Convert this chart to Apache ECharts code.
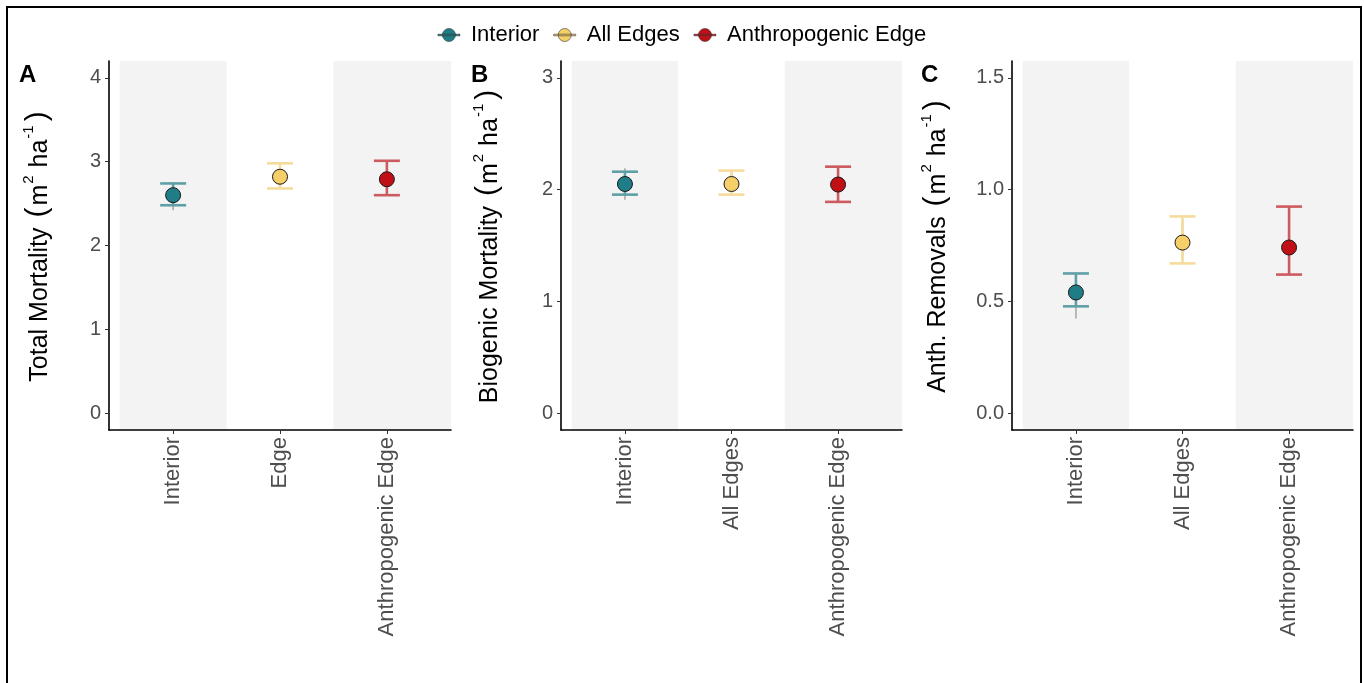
<!DOCTYPE html>
<html>
<head>
<meta charset="utf-8">
<script src="https://cdn.jsdelivr.net/npm/echarts@6/dist/echarts.min.js"></script>
<style>
html,body{margin:0;padding:0;background:#fff;}
#chart{width:1364px;height:683px;}
</style>
</head>
<body>
<div id="chart"></div>
<script>
// ---------- data ----------
const groups = ['Interior', 'All Edges', 'Anthropogenic Edge'];
const groupColors = ['#1e7d86', '#f7cf68', '#c10f16'];
const barColors = ['#5f9fa6', '#f6dc9c', '#cc5a5e'];

const categoriesA = ['Interior', 'Edge', 'Anthropogenic Edge'];
const categoriesB = ['Interior', 'All Edges', 'Anthropogenic Edge'];
const categoriesC = ['Interior', 'All Edges', 'Anthropogenic Edge'];

// Panel A: Total Mortality
const meanA = [2.60, 2.82, 2.79];
const lowA = [2.48, 2.68, 2.60];
const highA = [2.74, 2.98, 3.01];
const lineLowA = [2.42, 2.70, 2.62];
const lineHighA = [2.75, 2.96, 2.99];

// Panel B: Biogenic Mortality
const meanB = [2.05, 2.05, 2.045];
const lowB = [1.955, 1.955, 1.89];
const highB = [2.16, 2.17, 2.205];
const lineLowB = [1.91, 1.97, 1.91];
const lineHighB = [2.19, 2.15, 2.19];

// Panel C: Anth. Removals
const meanC = [0.54, 0.763, 0.741];
const lowC = [0.478, 0.67, 0.62];
const highC = [0.625, 0.88, 0.924];
const lineLowC = [0.424, 0.69, 0.64];
const lineHighC = [0.62, 0.86, 0.90];

// axis ticks
const ticksA = [0, 1, 2, 3, 4];
const tickLabelsA = ['0', '1', '2', '3', '4'];
const ticksB = [0, 1, 2, 3];
const tickLabelsB = ['0', '1', '2', '3'];
const ticksC = [0, 0.5, 1, 1.5];
const tickLabelsC = ['0.0', '0.5', '1.0', '1.5'];

// shaded bands (x ranges, in category units)
const bands = [[0.5, 1.5], [2.5, 3.6]];

// ---------- layout ----------
const FONT = 'Liberation Sans, Arial, sans-serif';
const panels = [
  {left: 109, width: 342, ymin: -0.2, ymax: 4.2, cats: categoriesA, ticks: ticksA, tickLabels: tickLabelsA,
   mean: meanA, low: lowA, high: highA, lineLow: lineLowA, lineHigh: lineHighA,
   title: 'Total Mortality', nameGap: 56, letter: 'A', letterX: 19},
  {left: 561, width: 341, ymin: -0.15, ymax: 3.15, cats: categoriesB, ticks: ticksB, tickLabels: tickLabelsB,
   mean: meanB, low: lowB, high: highB, lineLow: lineLowB, lineHigh: lineHighB,
   title: 'Biogenic Mortality', nameGap: 58, letter: 'B', letterX: 471},
  {left: 1012, width: 341, ymin: -0.075, ymax: 1.575, cats: categoriesC, ticks: ticksC, tickLabels: tickLabelsC,
   mean: meanC, low: lowC, high: highC, lineLow: lineLowC, lineHigh: lineHighC,
   title: 'Anth. Removals', nameGap: 61, letter: 'C', letterX: 921}
];
const gridTop = 61, gridHeight = 369;

const grid = [], xAxis = [], yAxis = [], series = [];

panels.forEach((p, i) => {
  grid.push({left: p.left, top: gridTop, width: p.width, height: gridHeight, containLabel: false});
  xAxis.push({
    type: 'value', gridIndex: i, min: 0.4, max: 3.6,
    splitLine: {show: false},
    axisLine: {show: true, onZero: false, lineStyle: {color: '#000', width: 1.6}},
    axisTick: {show: true, customValues: [1, 2, 3], length: 4, lineStyle: {color: '#333', width: 1}},
    axisLabel: {show: true, customValues: [1, 2, 3], rotate: 90, margin: 7,
      formatter: (v) => p.cats[Math.round(v) - 1],
      fontSize: 22, color: '#4d4d4d', fontFamily: FONT}
  });
  yAxis.push({
    type: 'value', gridIndex: i, min: p.ymin, max: p.ymax,
    splitLine: {show: false},
    axisLine: {show: true, onZero: false, lineStyle: {color: '#000', width: 1.6}},
    axisTick: {show: true, customValues: p.ticks, length: 4, lineStyle: {color: '#333', width: 1}},
    axisLabel: {show: true, customValues: p.ticks, margin: 8,
      formatter: (v) => { const k = p.ticks.findIndex(t => Math.abs(t - v) < 1e-9); return k >= 0 ? p.tickLabels[k] : ''; },
      fontSize: 20, color: '#4d4d4d', fontFamily: FONT},
    name: '{t|' + p.title + ' }{p|(}{t|m}{s|2}{t| ha}{s|-1}{p|)}',
    nameLocation: 'middle', nameGap: p.nameGap,
    nameTextStyle: {
      color: '#000', fontFamily: FONT, fontSize: 25,
      rich: {
        t: {fontSize: 25, fontFamily: FONT, color: '#000', verticalAlign: 'bottom', lineHeight: 32},
        s: {fontSize: 15, fontFamily: FONT, color: '#000', verticalAlign: 'top', lineHeight: 32, padding: [0, 1, 0, 1]},
        p: {fontSize: 30, fontFamily: FONT, color: '#000', verticalAlign: 'bottom', lineHeight: 32, padding: [0, 2, 0, 3]}
      }
    }
  });

  // background bands
  series.push({
    type: 'custom', xAxisIndex: i, yAxisIndex: i, silent: true, z: 0,
    data: bands,
    renderItem: (params, api) => {
      const x0 = api.coord([api.value(0), 0])[0];
      const x1 = api.coord([api.value(1), 0])[0];
      const cs = params.coordSys;
      return {type: 'rect', shape: {x: x0, y: cs.y, width: x1 - x0, height: cs.height},
              style: {fill: '#f3f3f3'}};
    }
  });

  // thin grey whiskers
  series.push({
    type: 'custom', xAxisIndex: i, yAxisIndex: i, silent: true, z: 1,
    data: groups.map((g, k) => [k + 1, p.lineLow[k], p.lineHigh[k]]),
    renderItem: (params, api) => {
      const a = api.coord([api.value(0), api.value(1)]);
      const b = api.coord([api.value(0), api.value(2)]);
      return {type: 'line', shape: {x1: a[0], y1: a[1], x2: b[0], y2: b[1]},
              style: {stroke: '#a9a9a9', lineWidth: 1.6}};
    }
  });

  // coloured error bars
  series.push({
    type: 'custom', xAxisIndex: i, yAxisIndex: i, silent: true, z: 2,
    data: groups.map((g, k) => [k + 1, p.low[k], p.high[k], k]),
    renderItem: (params, api) => {
      const a = api.coord([api.value(0), api.value(1)]);
      const b = api.coord([api.value(0), api.value(2)]);
      const c = barColors[api.value(3)];
      const hw = 13;
      const st = {stroke: c, lineWidth: 2.6};
      return {type: 'group', children: [
        {type: 'line', shape: {x1: a[0], y1: a[1], x2: b[0], y2: b[1]}, style: st},
        {type: 'line', shape: {x1: a[0] - hw, y1: a[1], x2: a[0] + hw, y2: a[1]}, style: st},
        {type: 'line', shape: {x1: b[0] - hw, y1: b[1], x2: b[0] + hw, y2: b[1]}, style: st}
      ]};
    }
  });

  // points
  groups.forEach((g, k) => {
    series.push({
      type: 'scatter', name: g, xAxisIndex: i, yAxisIndex: i, z: 5,
      symbol: 'circle', symbolSize: 15,
      itemStyle: {color: groupColors[k], borderColor: '#1a1a1a', borderWidth: 1, opacity: 1},
      data: [[k + 1, p.mean[k]]]
    });
  });
});

const graphic = [
  {type: 'rect', silent: true, z: 100, shape: {x: 7, y: 7, width: 1354, height: 720},
   style: {fill: 'none', stroke: '#000', lineWidth: 2}}
];
panels.forEach(p => {
  graphic.push({type: 'text', silent: true, x: p.letterX, y: 75,
    style: {text: p.letter, font: 'bold 24px Liberation Sans, Arial, sans-serif', fill: '#000', verticalAlign: 'middle', align: 'left'}});
});

const chart = echarts.init(document.getElementById('chart'), null, {renderer: 'canvas'});
chart.setOption({
  animation: false,
  backgroundColor: '#fff',
  textStyle: {fontFamily: FONT},
  legend: {
    data: groups.map((g, k) => ({name: g, itemStyle: {color: groupColors[k], borderColor: '#333', borderWidth: 0.6}})),
    top: 19, left: 'center',
    icon: 'path://M0,6.2h22v1.6H0z M17.5,7a6.5,6.5 0 1,1 -13,0a6.5,6.5 0 1,1 13,0z',
    itemWidth: 22, itemHeight: 14, itemGap: 14,
    textStyle: {fontSize: 22, color: '#000', fontFamily: FONT, padding: [0, 0, 0, 6]}
  },
  grid, xAxis, yAxis, series, graphic
});
</script>
</body>
</html>
